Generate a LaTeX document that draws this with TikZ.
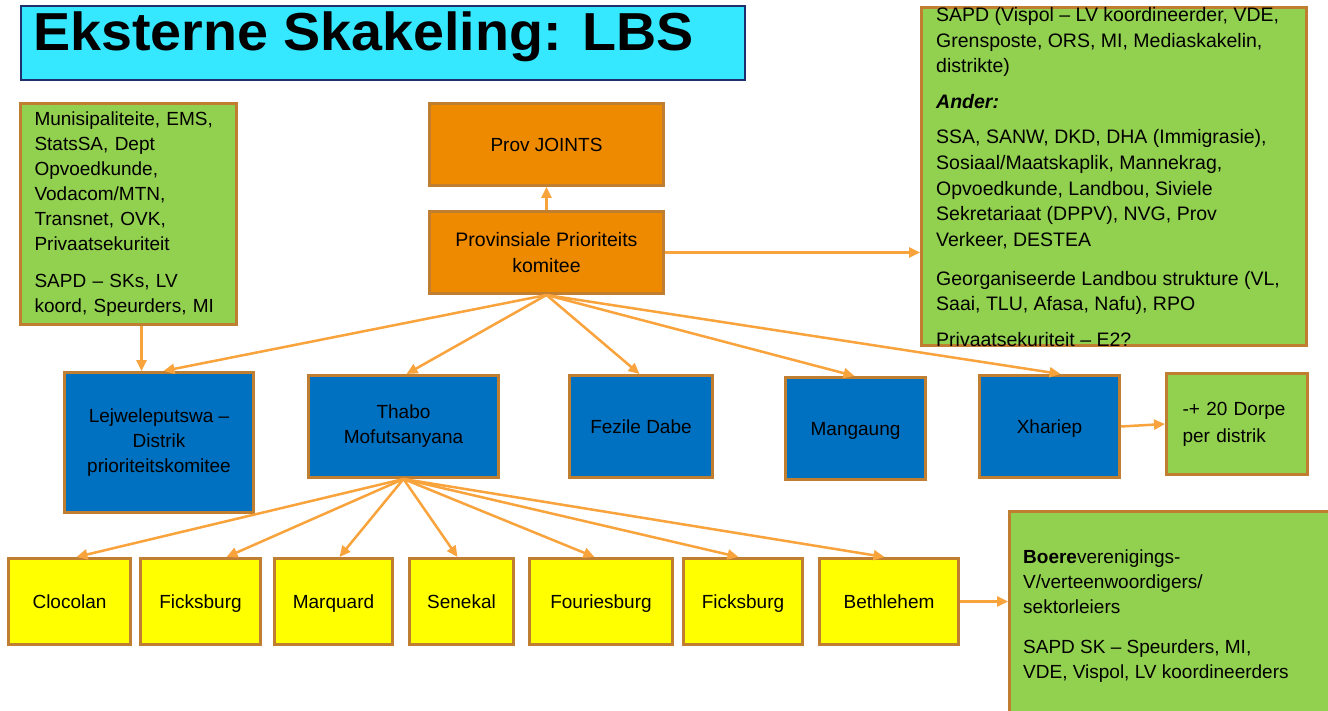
\documentclass[tikz,border=0pt]{standalone}
\usepackage{fontspec}
\setmainfont{Liberation Sans}
\newfontfamily\titlefont[FakeStretch=1.04]{Liberation Sans}
\usetikzlibrary{arrows.meta}
\definecolor{cgreen}{HTML}{92D050}
\definecolor{corange}{HTML}{EE8A00}
\definecolor{cblue}{HTML}{0070C0}
\definecolor{cyellow}{HTML}{FFFF00}
\definecolor{ccyan}{HTML}{35E8FF}
\definecolor{cnavy}{HTML}{1F2F6B}
\definecolor{cbord}{HTML}{C07E30}
\definecolor{carr}{HTML}{F9A33C}
\tikzset{
  box/.style={draw=cbord, line width=3pt, inner sep=0pt, anchor=north west, align=center,
    font=\fontsize{19}{25}\selectfont},
  single/.style={text height=16pt, text depth=2pt},
  txt/.style={inner sep=0pt, align=left, font=\fontsize{19}{25}\selectfont},
  arr/.style={draw=carr, line width=2.5pt, -{Triangle[length=11pt,width=10pt]}},
}
\begin{document}
\begin{tikzpicture}[x=1pt,y=-1pt]
\useasboundingbox (0,0) rectangle (1328,711);
\fill[white] (0,0) rectangle (1328,711);
\clip (0,0) rectangle (1328,711);

% title
\node[draw=cnavy, line width=2pt, fill=ccyan, anchor=north west, inner sep=0pt,
  minimum width=724pt, minimum height=74pt] (title) at (20,5) {};
\node[inner sep=0pt, anchor=base west, font=\titlefont\fontsize{53.5}{60}\selectfont\bfseries] (titletext) at (33,51) {Eksterne Skakeling: LBS};

% left green
\node[box, fill=cgreen, minimum width=216pt, minimum height=221pt, text width=188pt, align=left] (mun) at (19,102)
 {Munisipaliteite, EMS,\\StatsSA, Dept\\Opvoedkunde,\\Vodacom/MTN,\\Transnet, OVK,\\Privaatsekuriteit\\[12pt]SAPD -- SKs, LV\\koord, Speurders, MI};

% orange
\node[box, single, fill=corange, minimum width=234pt, minimum height=82pt] (joints) at (428,102) {Prov JOINTS};
\node[box, fill=corange, minimum width=234pt, minimum height=82pt, font=\fontsize{19.5}{26}\selectfont] (prov) at (428,210) {Provinsiale Prioriteits\\komitee};

% right green
\node[box, fill=cgreen, minimum width=385pt, minimum height=338pt] (ext) at (920,6) {};
\node[txt, anchor=north west, font=\fontsize{19.5}{25.7}\selectfont] (exttext) at (936,7)
 {SAPD (Vispol -- LV koordineerder, VDE,\\Grensposte, ORS, MI, Mediaskakelin,\\distrikte)\\[10pt]
  \textbf{\textit{Ander:}}\\[9.5pt]
  SSA, SANW, DKD, DHA (Immigrasie),\\Sosiaal/Maatskaplik, Mannekrag,\\Opvoedkunde, Landbou, Siviele\\Sekretariaat (DPPV), NVG, Prov\\Verkeer, DESTEA\\[13pt]
  Georganiseerde Landbou strukture (VL,\\Saai, TLU, Afasa, Nafu), RPO\\[9.5pt]
  Privaatsekuriteit -- E2?};

% blue row
\node[box, fill=cblue, minimum width=189pt, minimum height=140pt] (lej) at (63,371) {Lejweleputswa --\\Distrik\\prioriteitskomitee};
\node[box, fill=cblue, minimum width=190pt, minimum height=102pt] (thabo) at (307,374) {Thabo\\Mofutsanyana};
\node[box, single, fill=cblue, minimum width=143pt, minimum height=102pt] (fez) at (568,374) {Fezile Dabe};
\node[box, single, fill=cblue, minimum width=140pt, minimum height=102pt] (mang) at (784,376) {Mangaung};
\node[box, single, fill=cblue, minimum width=140pt, minimum height=102pt] (xha) at (978,374) {Xhariep};
\node[box, fill=cgreen, minimum width=141pt, minimum height=101pt, text width=109pt, align=left,
  font=\fontsize{19}{27}\selectfont] (dorpe) at (1165,372) {-+ 20 Dorpe\\per distrik};

% yellow row
\node[box, single, fill=cyellow, minimum width=122pt, minimum height=86pt] (clo) at (7,557) {Clocolan};
\node[box, single, fill=cyellow, minimum width=120pt, minimum height=86pt] (fic1) at (139,557) {Ficksburg};
\node[box, single, fill=cyellow, minimum width=118pt, minimum height=86pt] (mar) at (273,557) {Marquard};
\node[box, single, fill=cyellow, minimum width=104pt, minimum height=86pt] (sen) at (408,557) {Senekal};
\node[box, single, fill=cyellow, minimum width=143pt, minimum height=86pt] (fou) at (528,557) {Fouriesburg};
\node[box, single, fill=cyellow, minimum width=119pt, minimum height=86pt] (fic2) at (682,557) {Ficksburg};
\node[box, single, fill=cyellow, minimum width=139pt, minimum height=86pt] (bet) at (818,557) {Bethlehem};

% bottom right green
\node[box, fill=cgreen, minimum width=340pt, minimum height=220pt] (boere) at (1008,510) {};
\node[txt, anchor=north west] (boeretext) at (1023,550)
 {\textbf{Boere}verenigings-\\V/verteenwoordigers/\\sektorleiers\\[15pt]SAPD SK -- Speurders, MI,\\VDE, Vispol, LV koordineerders};

% connectors
\draw[arr] (prov.north) -- (joints.south);
\draw[arr] (prov.east) -- (prov.east -| ext.west);
\draw[arr] ([xshift=13pt]mun.south) -- ([xshift=-17.5pt]lej.north);
\draw[arr] (prov.south) -- ([xshift=4.5pt]lej.north);
\draw[arr] (prov.south) -- ([xshift=3pt]thabo.north);
\draw[arr] (prov.south) -- ([xshift=-1.5pt]fez.north);
\draw[arr] (prov.south) -- ([xshift=-1pt]mang.north);
\draw[arr] (prov.south) -- ([xshift=11pt]xha.north);
\draw[arr] (xha.east) -- (dorpe.west);
\draw[arr] (thabo.south) -- ([xshift=7pt]clo.north);
\draw[arr] (thabo.south) -- ([xshift=26pt]fic1.north);
\draw[arr] (thabo.south) -- ([xshift=6pt]mar.north);
\draw[arr] (thabo.south) -- ([xshift=-4pt]sen.north);
\draw[arr] (thabo.south) -- ([xshift=-6.5pt]fou.north);
\draw[arr] (thabo.south) -- ([xshift=-4.5pt]fic2.north);
\draw[arr] (thabo.south) -- ([xshift=-4.5pt]bet.north);
\draw[arr] (bet.east) -- (bet.east -| boere.west);
\end{tikzpicture}
\end{document}
